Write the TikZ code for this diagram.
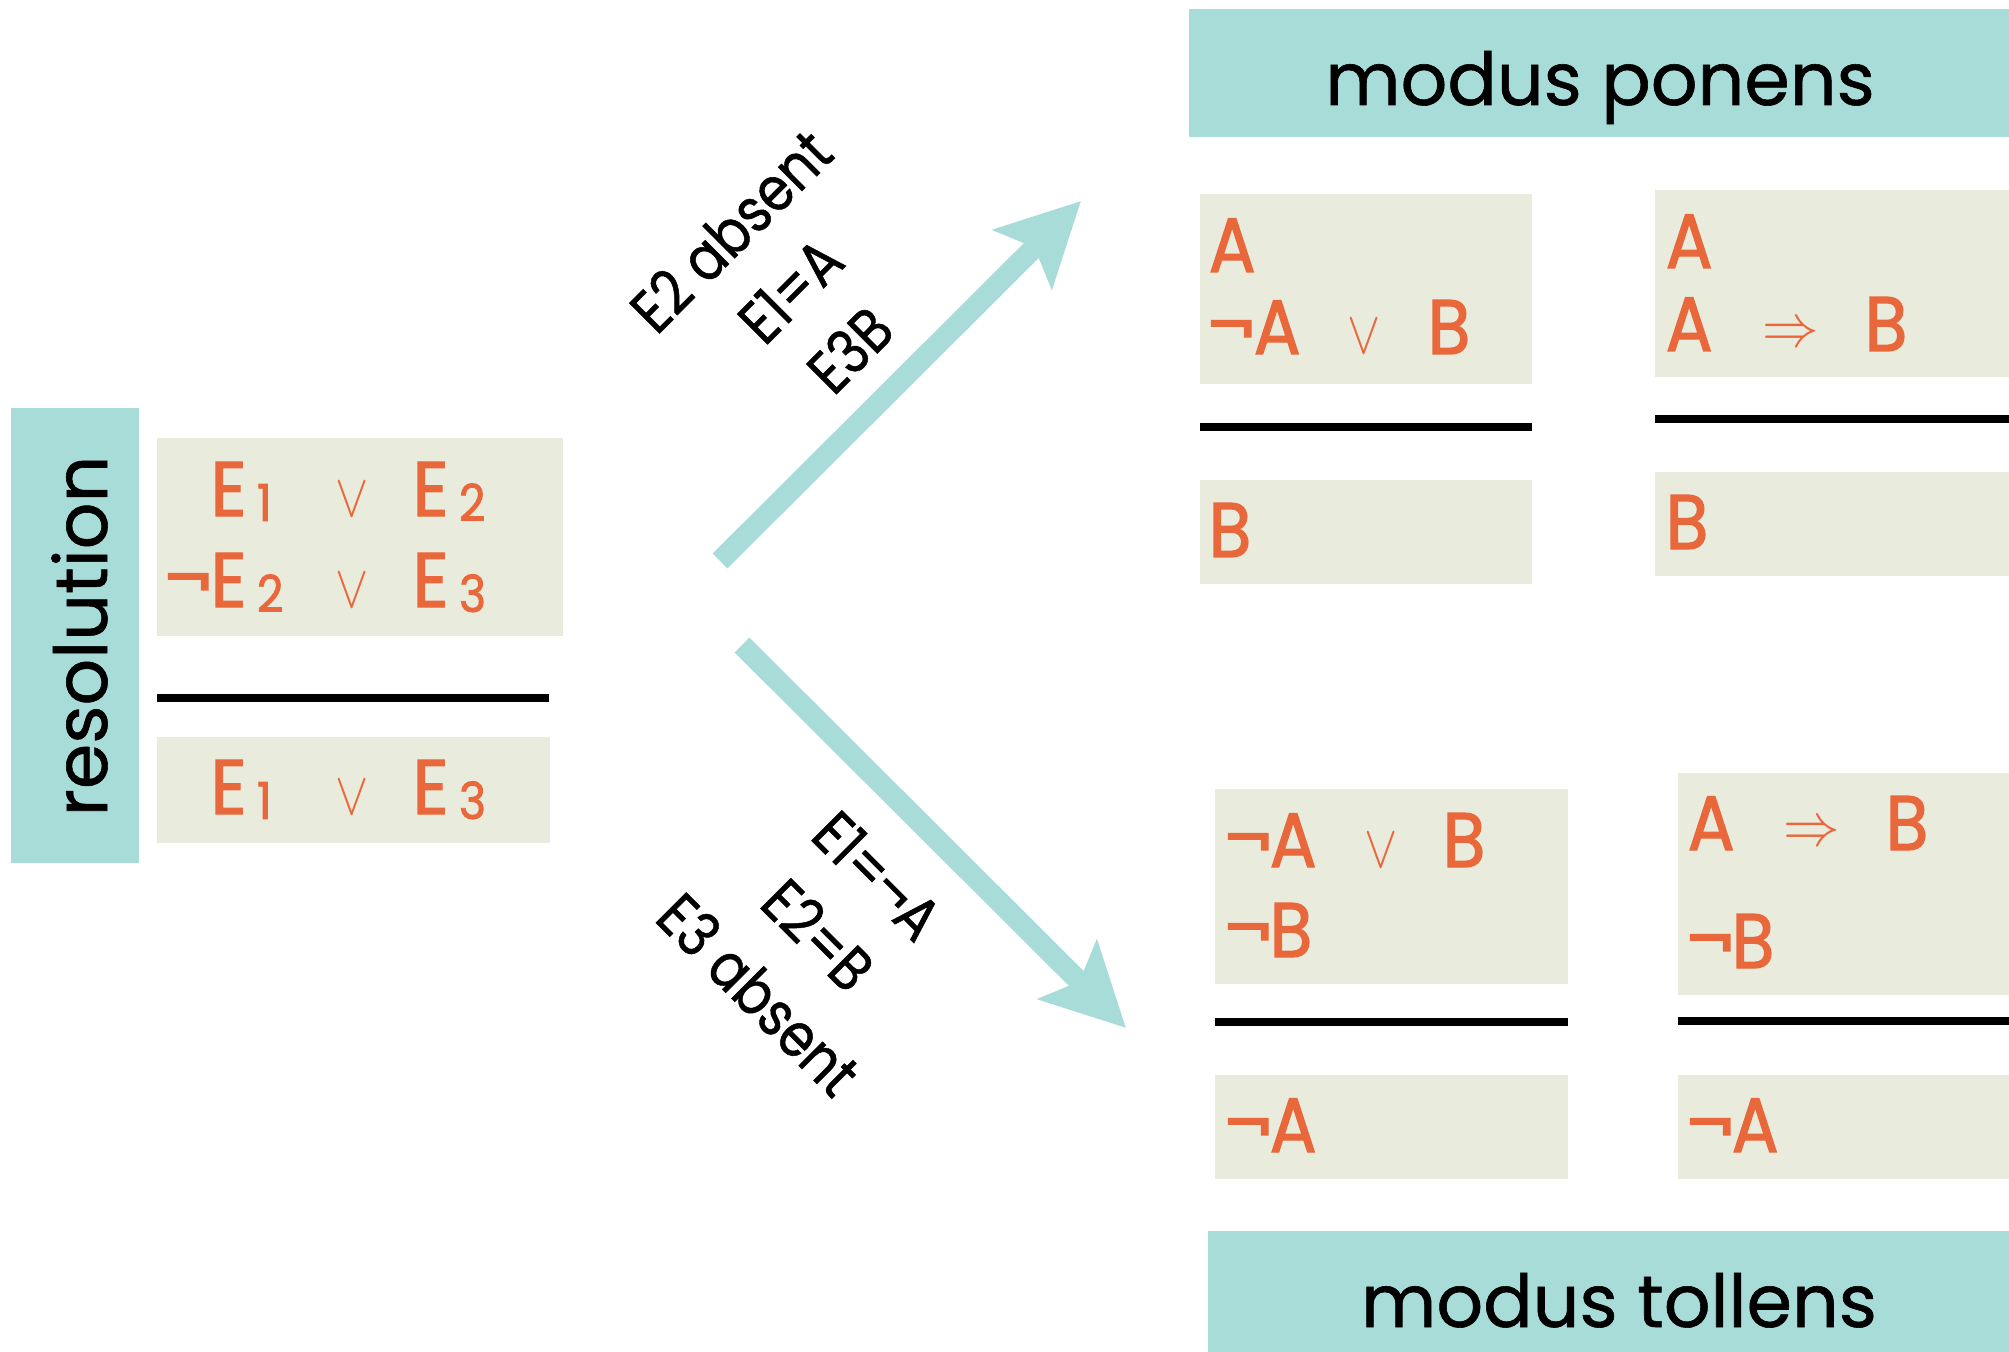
\documentclass[tikz,border=0pt]{standalone}
\usepackage{fontspec}
\setmainfont{Poppins}
\newfontfamily\hdfont[FakeBold=0.8]{Poppins}
\newfontfamily\resfont[FakeBold=0.8]{Poppins}
\newfontfamily\lbfont[FakeStretch=0.85,FakeBold=0.8]{Poppins}
\newfontfamily\orfont[FakeStretch=0.9,FakeBold=1.6]{Poppins}
\usetikzlibrary{arrows.meta}
\definecolor{tealbg}{RGB}{168,220,216}
\definecolor{beigebg}{RGB}{233,235,221}
\definecolor{orng}{RGB}{233,104,59}
\newcommand\sbx[1]{\hspace{3pt}\raisebox{-1.4pt}{\fontsize{14.5}{14.5}\selectfont #1}}
\newcommand\orv{\scalebox{0.82}[1]{\fontsize{16.4}{16.4}\selectfont$\vee$}}
\newcommand\orimp{\raisebox{1.4pt}{\scalebox{0.93}[1]{\fontsize{16}{16}\selectfont$\Rightarrow$}}}
\tikzset{
  tealbox/.style={fill=tealbg, inner sep=0pt, outer sep=0pt, anchor=north west},
  beigebox/.style={fill=beigebg, inner sep=0pt, outer sep=0pt, anchor=north west},
  rulebar/.style={line width=2.3pt, black},
  sym/.style={anchor=base west, inner sep=0pt, text=orng, font=\orfont\fontsize{22}{22}\selectfont},
  hdr/.style={anchor=base, inner sep=0pt, font=\hdfont\fontsize{20.8}{20.8}\selectfont},
  lbl/.style={inner sep=0pt, align=center, font=\lbfont\fontsize{17.5}{23.9}\selectfont},
  bigarrow/.style={draw=tealbg, line width=5.97pt, -{Stealth[length=23.3pt, width=23.3pt, inset=4.6pt]}},
}
\begin{document}
\begin{tikzpicture}[x=0.01cm, y=-0.01cm]
\useasboundingbox (0,0) rectangle (2009,1352);
% resolution
\node[tealbox, minimum width=1.28cm, minimum height=4.55cm] (resT) at (11,408) {};
\node[anchor=base, inner sep=0pt, rotate=90, font=\resfont\fontsize{20.8}{20.8}\selectfont] (resL) at (107,636) {resolution};
\node[beigebox, minimum width=4.06cm, minimum height=1.98cm] (resA) at (157,438) {};
\node[beigebox, minimum width=3.93cm, minimum height=1.06cm] (resB) at (157,737) {};
\coordinate (resR1) at (157,698); \coordinate (resR2) at (549,698);
\draw[rulebar] (resR1) -- (resR2);
\node[sym] (r1a) at (210,516) {E\sbx{1}};
\node[sym] (r1b) at (335,516) {\orv};
\node[sym] (r1c) at (412,516) {E\sbx{2}};
\node[sym] (r2n) at (165,607) {¬};
\node[sym] (r2a) at (210,607) {E\sbx{2}};
\node[sym] (r2b) at (335,607) {\orv};
\node[sym] (r2c) at (412,607) {E\sbx{3}};
\node[sym] (r3a) at (210,814) {E\sbx{1}};
\node[sym] (r3b) at (335,814) {\orv};
\node[sym] (r3c) at (412,814) {E\sbx{3}};
% modus ponens
\node[tealbox, minimum width=8.20cm, minimum height=1.28cm] (mpH) at (1189,9) {};
\node[hdr] (mpL) at (1600,105) {modus ponens};
\node[beigebox, minimum width=3.32cm, minimum height=1.90cm] (mp1A) at (1200,194) {};
\node[beigebox, minimum width=3.32cm, minimum height=1.04cm] (mp1B) at (1200,480) {};
\coordinate (mp1R1) at (1200,427); \coordinate (mp1R2) at (1532,427);
\draw[rulebar] (mp1R1) -- (mp1R2);
\node[beigebox, minimum width=3.54cm, minimum height=1.87cm] (mp2A) at (1655,190) {};
\node[beigebox, minimum width=3.54cm, minimum height=1.04cm] (mp2B) at (1655,472) {};
\coordinate (mp2R1) at (1655,419); \coordinate (mp2R2) at (2009,419);
\draw[rulebar] (mp2R1) -- (mp2R2);
\node[sym] (p1a) at (1208,272) {A};
\node[sym] (p1n) at (1208,354) {¬};
\node[sym] (p1b) at (1253,354) {A};
\node[sym] (p1c) at (1347,354) {\orv};
\node[sym] (p1d) at (1427,354) {B};
\node[sym] (p1e) at (1208,557) {B};
\node[sym] (p2a) at (1665,268) {A};
\node[sym] (p2b) at (1665,351) {A};
\node[sym] (p2c) at (1762,351) {\orimp};
\node[sym] (p2d) at (1864,351) {B};
\node[sym] (p2e) at (1665,549) {B};
% modus tollens
\node[tealbox, minimum width=8.01cm, minimum height=1.21cm] (mtH) at (1208,1231) {};
\node[hdr] (mtL) at (1619,1327) {modus tollens};
\node[beigebox, minimum width=3.53cm, minimum height=1.95cm] (mt1A) at (1215,789) {};
\node[beigebox, minimum width=3.53cm, minimum height=1.04cm] (mt1B) at (1215,1075) {};
\coordinate (mt1R1) at (1215,1022); \coordinate (mt1R2) at (1568,1022);
\draw[rulebar] (mt1R1) -- (mt1R2);
\node[beigebox, minimum width=3.31cm, minimum height=2.22cm] (mt2A) at (1678,773) {};
\node[beigebox, minimum width=3.31cm, minimum height=1.04cm] (mt2B) at (1678,1075) {};
\coordinate (mt2R1) at (1678,1021); \coordinate (mt2R2) at (2009,1021);
\draw[rulebar] (mt2R1) -- (mt2R2);
\node[sym] (t1n) at (1225,867) {¬};
\node[sym] (t1a) at (1269,867) {A};
\node[sym] (t1v) at (1364,867) {\orv};
\node[sym] (t1b) at (1442,867) {B};
\node[sym] (t1n2) at (1225,957) {¬};
\node[sym] (t1b2) at (1269,957) {B};
\node[sym] (t1n3) at (1225,1152) {¬};
\node[sym] (t1a3) at (1269,1152) {A};
\node[sym] (t2a) at (1687,850) {A};
\node[sym] (t2i) at (1783,850) {\orimp};
\node[sym] (t2b) at (1885,850) {B};
\node[sym] (t2n) at (1687,968) {¬};
\node[sym] (t2b2) at (1731,968) {B};
\node[sym] (t2n3) at (1687,1152) {¬};
\node[sym] (t2a3) at (1731,1152) {A};
% arrows
\coordinate (a1s) at (720,561); \coordinate (a1e) at (1081,201);
\coordinate (a2s) at (742,645); \coordinate (a2e) at (1126,1028);
\draw[bigarrow] (a1s) -- (a1e);
\draw[bigarrow] (a2s) -- (a2e);
\node[lbl, rotate=45] (lab1) at (790,290) {E2 absent\\E1=A\\E3B};
\node[lbl, rotate=-45] (lab2) at (818,935) {E1=¬A\\E2=B\\E3 absent};
\end{tikzpicture}
\end{document}
